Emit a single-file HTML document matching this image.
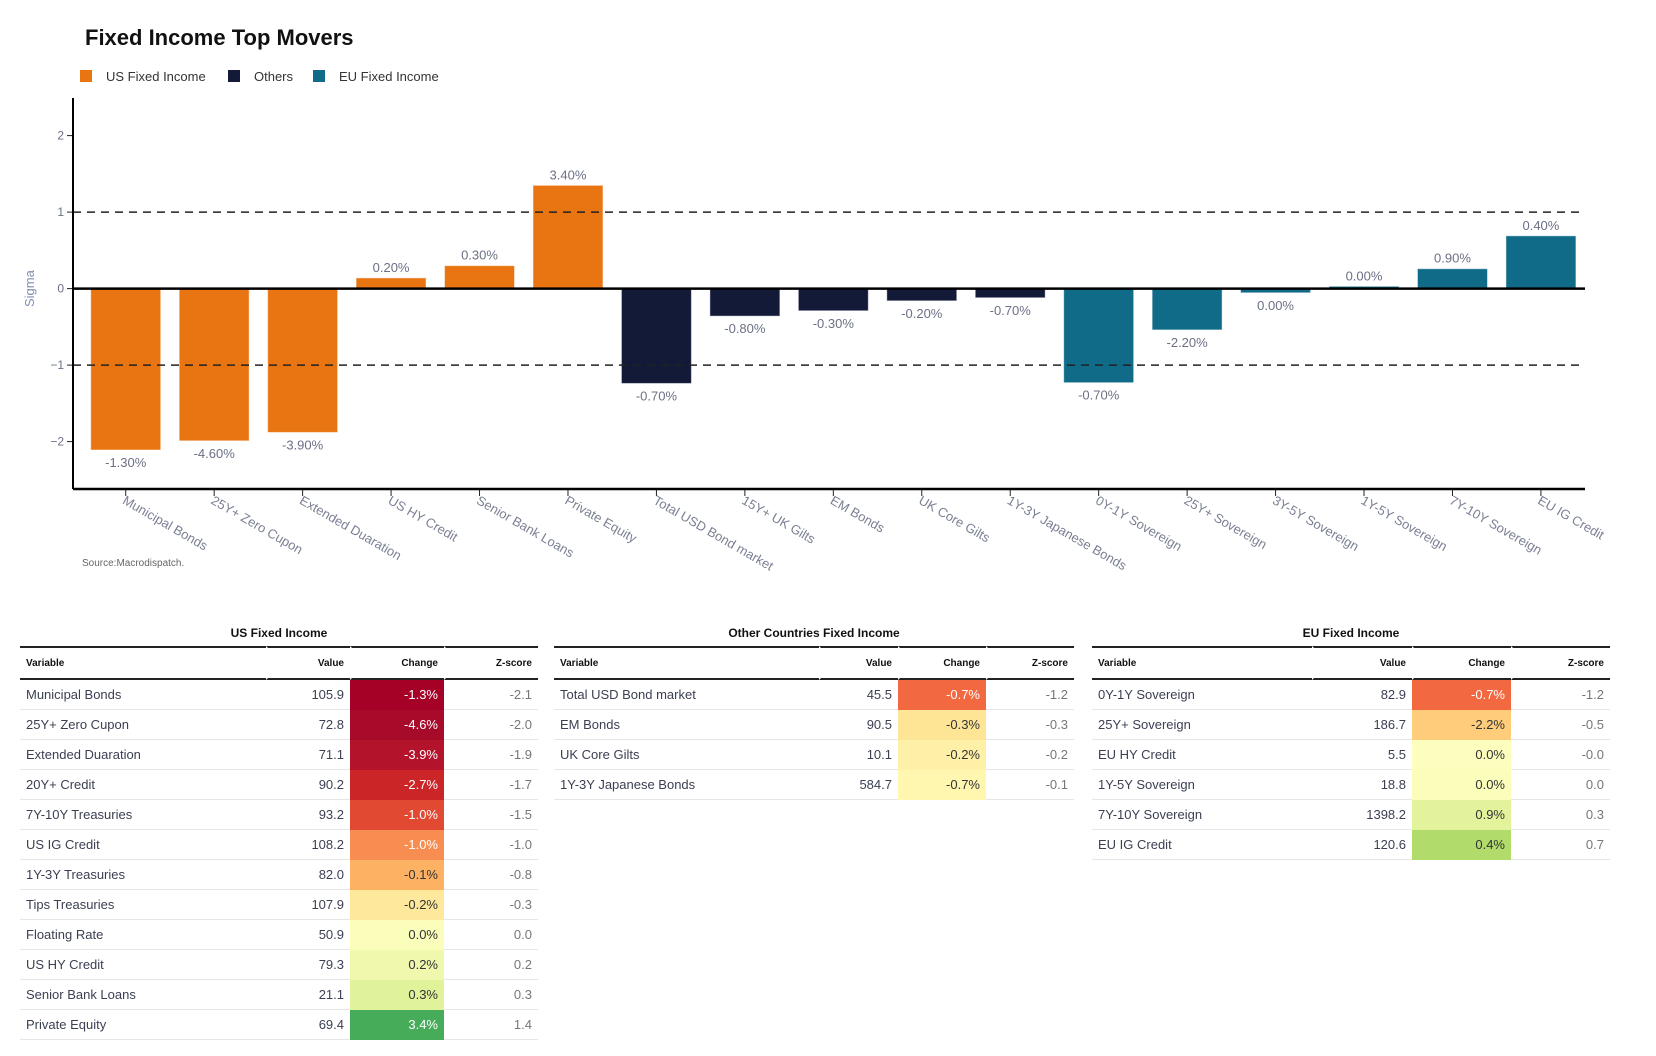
<!DOCTYPE html>
<html><head><meta charset="utf-8">
<style>
body{margin:0;width:1656px;height:1056px;background:#fff;position:relative;overflow:hidden;font-family:"Liberation Sans",sans-serif}
#chart{position:absolute;left:0;top:0}
.tbl{position:absolute;top:622px}
.tbl .ttl{position:absolute;top:0;height:22px;line-height:22px;font-weight:bold;font-size:12px;color:#111;text-align:center;width:100%}
.tbl table{position:absolute;top:24px;left:0;border-collapse:separate;border-spacing:0;font-size:13px;color:#3b3f52}
.tbl th{font-size:10px;font-weight:bold;color:#111;height:30px;border-top:2px solid #222;border-bottom:2px solid #222;padding:0 6px;text-align:right}
.tbl th:first-child{text-align:left}
.tbl td{height:29px;border-bottom:1px solid #e6e6e6;padding:0 6px;text-align:right}
.tbl td:first-child{text-align:left}
.tbl td.z{color:#777}
.tbl th+th{border-left:2px solid #fff}
</style></head><body>
<svg id="chart" width="1656" height="600"></svg>

<div class="tbl" style="left:20px;width:518px">
<div class="ttl">US Fixed Income</div>
<table id="t1" style="width:518px"><colgroup><col style="width:246px"><col style="width:84px"><col style="width:94px"><col style="width:94px"></colgroup></table></div>
<div class="tbl" style="left:554px;width:520px">
<div class="ttl">Other Countries Fixed Income</div>
<table id="t2" style="width:520px"><colgroup><col style="width:265px"><col style="width:79px"><col style="width:88px"><col style="width:88px"></colgroup></table></div>
<div class="tbl" style="left:1092px;width:518px">
<div class="ttl">EU Fixed Income</div>
<table id="t3" style="width:518px"><colgroup><col style="width:220px"><col style="width:100px"><col style="width:99px"><col style="width:99px"></colgroup></table></div>

<script>
const categories=["Municipal Bonds","25Y+ Zero Cupon","Extended Duaration","US HY Credit","Senior Bank Loans","Private Equity","Total USD Bond market","15Y+ UK Gilts","EM Bonds","UK Core Gilts","1Y-3Y Japanese Bonds","0Y-1Y Sovereign","25Y+ Sovereign","3Y-5Y Sovereign","1Y-5Y Sovereign","7Y-10Y Sovereign","EU IG Credit"];
const sigma=[-2.11,-1.99,-1.88,0.14,0.30,1.35,-1.24,-0.36,-0.29,-0.16,-0.12,-1.23,-0.54,-0.055,0.03,0.26,0.69];
const labels=["-1.30%","-4.60%","-3.90%","0.20%","0.30%","3.40%","-0.70%","-0.80%","-0.30%","-0.20%","-0.70%","-0.70%","-2.20%","0.00%","0.00%","0.90%","0.40%"];
const groups=["US","US","US","US","US","US","O","O","O","O","O","EU","EU","EU","EU","EU","EU"];
const yTicks=[2,1,0,-1,-2];
const yTickLabels=["2","1","0","\u22121","\u22122"];
const refLines=[1,-1];

const NS="http://www.w3.org/2000/svg";
const svg=document.getElementById('chart');
const colors={US:"#e87511",O:"#131a38",EU:"#0f6b87"};
const X0=81.5,BW=88.45,Y0=288.6,U=76.5,AXL=73,AXR=1585,AXT=98,AXB=489;
const xs=i=>X0+BW*(i+0.5);
const ys=v=>Y0-v*U;
function el(t,a,p){const e=document.createElementNS(NS,t);for(const k in a)e.setAttribute(k,a[k]);(p||svg).appendChild(e);return e;}

let t=el('text',{x:85,y:45,'font-size':22,'font-weight':'bold',fill:'#111','font-family':'Liberation Sans, sans-serif'});
t.textContent="Fixed Income Top Movers";



const leg=[["US Fixed Income","US",80],["Others","O",228],["EU Fixed Income","EU",313]];
leg.forEach(l=>{
 const g=el('g',{});
 
 
 el('rect',{x:l[2],y:70,width:12,height:12,fill:colors[l[1]]},g);
 const tx=el('text',{x:l[2]+26,y:81,'font-size':13,fill:'#333'},g);tx.textContent=l[0];
});

yTicks.forEach((v,i)=>{
 const tk=el('line',{x1:AXL-6,x2:AXL,y1:ys(v),y2:ys(v),stroke:'#222','stroke-width':1});
 
 
 const tl=el('text',{x:AXL-9,y:ys(v)+4,'font-size':12,fill:'#6b7085','text-anchor':'end'});
 tl.textContent=yTickLabels[i];
 
 
});
const yt=el('text',{x:0,y:0,'font-size':13,fill:'#7f8fb0','text-anchor':'middle',transform:`translate(34,${Y0}) rotate(-90)`});
yt.textContent="Sigma";



categories.forEach((c,i)=>{
 const v=sigma[i],y=ys(Math.max(v,0)),h=Math.abs(ys(v)-ys(0));
 const r=el('rect',{x:xs(i)-35,y:y,width:70,height:Math.max(h,1),fill:colors[groups[i]],stroke:'rgba(255,255,255,0.5)','stroke-width':1});
 
 
 const lb=el('text',{x:xs(i),y:v>=0?ys(v)-6:ys(v)+17,'font-size':13,fill:'#6b7085','text-anchor':'middle'});
 lb.textContent=labels[i];
 
 
 const tk=el('line',{x1:xs(i),x2:xs(i),y1:AXB,y2:AXB+7,stroke:'#222','stroke-width':1});
 
 
 const xl=el('text',{x:0,y:0,'font-size':13,fill:'#7a8093',transform:`translate(${xs(i)-4},${AXB+14}) rotate(30)`});
 xl.textContent=c;
 
 
});

refLines.forEach(v=>{
 const d=el('line',{x1:AXL,x2:AXR,y1:ys(v),y2:ys(v),stroke:'#222','stroke-width':1.5,'stroke-dasharray':'8,6'});
 
 
});
const z=el('line',{x1:AXL,x2:AXR,y1:ys(0),y2:ys(0),stroke:'#000','stroke-width':2.5});


const ya=el('line',{x1:AXL,x2:AXL,y1:AXT,y2:AXB,stroke:'#000','stroke-width':2});


const xa=el('line',{x1:AXL,x2:AXR,y1:AXB,y2:AXB,stroke:'#000','stroke-width':2.5});


const src=el('text',{x:82,y:566,'font-size':10,fill:'#666'});
src.textContent="Source:Macrodispatch.";



// tables
const usRows=[["Municipal Bonds","105.9","-1.3%","-2.1","#a50026",1],["25Y+ Zero Cupon","72.8","-4.6%","-2.0","#a80a2a",1],["Extended Duaration","71.1","-3.9%","-1.9","#b3132b",1],["20Y+ Credit","90.2","-2.7%","-1.7","#cb2528",1],["7Y-10Y Treasuries","93.2","-1.0%","-1.5","#e24932",1],["US IG Credit","108.2","-1.0%","-1.0","#f88d52",1],["1Y-3Y Treasuries","82.0","-0.1%","-0.8","#fdb163",0],["Tips Treasuries","107.9","-0.2%","-0.3","#fee89b",0],["Floating Rate","50.9","0.0%","0.0","#fbfdbb",0],["US HY Credit","79.3","0.2%","0.2","#f0f8ad",0],["Senior Bank Loans","21.1","0.3%","0.3","#e0f29a",0],["Private Equity","69.4","3.4%","1.4","#46ac5a",1]];
const otherRows=[["Total USD Bond market","45.5","-0.7%","-1.2","#f26841",1],["EM Bonds","90.5","-0.3%","-0.3","#fee596",0],["UK Core Gilts","10.1","-0.2%","-0.2","#fef1a7",0],["1Y-3Y Japanese Bonds","584.7","-0.7%","-0.1","#fff6b0",0]];
const euRows=[["0Y-1Y Sovereign","82.9","-0.7%","-1.2","#f26841",1],["25Y+ Sovereign","186.7","-2.2%","-0.5","#fecc7b",0],["EU HY Credit","5.5","0.0%","-0.0","#fdfdbd",0],["1Y-5Y Sovereign","18.8","0.0%","0.0","#fbfdbb",0],["7Y-10Y Sovereign","1398.2","0.9%","0.3","#e3f39b",0],["EU IG Credit","120.6","0.4%","0.7","#b1dc6c",0]];
function fill(id,rows){
 const tb=document.getElementById(id);
 const hr=document.createElement('tr');
 ["Variable","Value","Change","Z-score"].forEach(h=>{const th=document.createElement('th');th.textContent=h;
  
  
  hr.appendChild(th);});
 tb.appendChild(hr);
 rows.forEach(r=>{
  const tr=document.createElement('tr');
  
  
  [r[0],r[1],r[2],r[3]].forEach((v,j)=>{
   const td=document.createElement('td');td.textContent=v;
   if(j===2){td.style.background=r[4];td.style.color=r[5]?'#fff':'#333';td.style.borderBottomColor=r[4];}
   if(j===3)td.className='z';
   tr.appendChild(td);
  });
  tb.appendChild(tr);
 });
}
fill('t1',usRows);fill('t2',otherRows);fill('t3',euRows);
</script>
</body></html>
